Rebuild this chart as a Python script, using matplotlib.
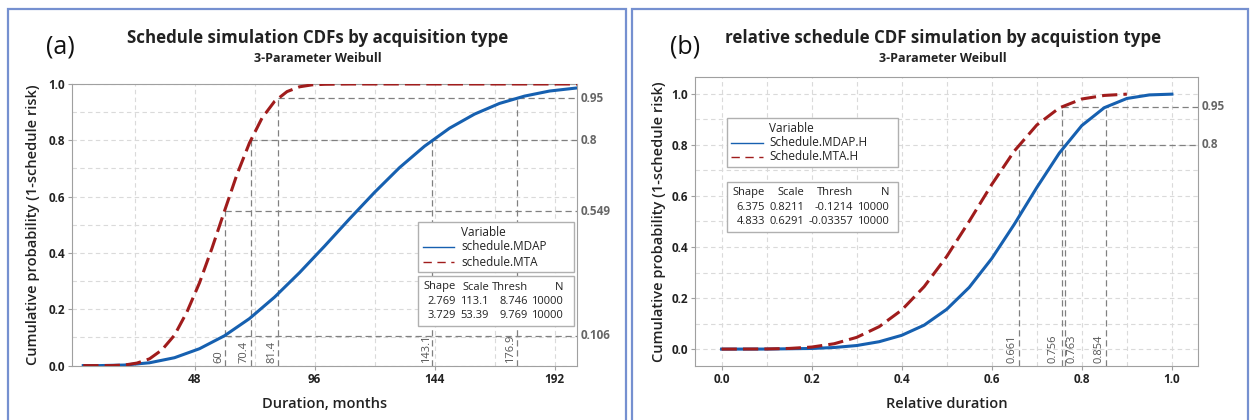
import numpy as np
import matplotlib
matplotlib.use("Agg")
import matplotlib.pyplot as plt
from matplotlib.patches import Rectangle
from matplotlib.lines import Line2D

plt.rcParams['font.family'] = ['Open Sans', 'DejaVu Sans']

W, H = 1250, 420

# ---- data ----
# (a) duration in months
a_mdap_x = [3.5, 10, 20, 30, 40, 50, 60, 70, 80, 90, 100, 110, 120, 130, 140, 150, 160, 170, 180, 190, 201]
a_mdap_y = [0.0, 0.0, 0.002, 0.010, 0.028, 0.060, 0.106, 0.167, 0.243, 0.330, 0.424, 0.521, 0.615, 0.703,
            0.779, 0.843, 0.893, 0.931, 0.957, 0.975, 0.986]
a_mta_x = [3.5, 15, 20, 25, 30, 35, 40, 45, 50, 55, 60, 65, 70, 75, 80, 85, 90, 95, 100, 110, 201]
a_mta_y = [0.0, 0.0, 0.002, 0.009, 0.024, 0.056, 0.108, 0.191, 0.294, 0.417, 0.549, 0.679, 0.791, 0.879,
           0.938, 0.973, 0.990, 0.997, 0.999, 1.0, 1.0]
a_ref = [(60, 0.549), (70.4, 0.8), (81.4, 0.95), (143.1, 0.8), (176.9, 0.95)]
a_href = [(60, 0.106), (60, 0.549), (70.4, 0.8), (81.4, 0.95)]
a_xlabels = ["60", "70.4", "81.4", "143.1", "176.9"]
a_ylabels = ["0.95", "0.8", "0.549", "0.106"]
a_names = ["schedule.MDAP", "schedule.MTA"]
a_table = [["2.769", "113.1", "8.746", "10000"], ["3.729", "53.39", "9.769", "10000"]]

# (b) relative duration
b_mdap_x = [0, 0.1, 0.2, 0.25, 0.3, 0.35, 0.4, 0.45, 0.5, 0.55, 0.6, 0.65, 0.7, 0.75, 0.8, 0.85, 0.9, 0.95, 1.0]
b_mdap_y = [0, 0.0002, 0.0025, 0.0063, 0.014, 0.029, 0.054, 0.094, 0.156, 0.242, 0.355, 0.489, 0.633,
            0.768, 0.876, 0.946, 0.982, 0.996, 0.999]
b_mta_x = [0, 0.1, 0.15, 0.2, 0.25, 0.3, 0.35, 0.4, 0.45, 0.5, 0.55, 0.6, 0.65, 0.7, 0.75, 0.8, 0.85, 0.9]
b_mta_y = [0, 0.0006, 0.0026, 0.008, 0.021, 0.046, 0.088, 0.153, 0.245, 0.363, 0.501, 0.645, 0.776,
           0.878, 0.945, 0.980, 0.994, 0.999]
b_ref = [(0.661, 0.8), (0.756, 0.95), (0.763, 0.8), (0.854, 0.95)]
b_href = [(0.661, 0.8), (0.756, 0.95)]
b_xlabels = ["0.661", "0.756", "0.763", "0.854"]
b_ylabels = ["0.95", "0.8"]
b_names = ["Schedule.MDAP.H", "Schedule.MTA.H"]
b_table = [["6.375", "0.8211", "-0.1214", "10000"], ["4.833", "0.6291", "-0.03357", "10000"]]

BLUE = "#1660b0"
RED = "#a01c1c"
REFC = "#808080"
TXT = "#222222"


def fx(x):
    return x / W


def fy(y):
    return 1 - y / H


fig = plt.figure(figsize=(12.5, 4.2), dpi=100)

# panel borders
for x0, x1 in [(8, 626), (632, 1248)]:
    fig.add_artist(Rectangle((fx(x0), fy(425)), fx(x1 - x0), 416 / H,
                             transform=fig.transFigure, fill=False, ec="#7590d0", lw=1.6))


def make_panel(rect, xlim, ylim, xticks, xgrid, yticks, ygrid):
    ax = fig.add_axes(rect)
    ax.set_xlim(*xlim)
    ax.set_ylim(*ylim)
    ax.set_xticks(xticks)
    ax.set_xticks(xgrid, minor=True)
    ax.set_yticks(yticks)
    ax.set_yticks(ygrid, minor=True)
    ax.grid(True, which="both", color="#dadada", ls=(0, (4, 3)), lw=0.8)
    ax.set_axisbelow(True)
    for s in ax.spines.values():
        s.set_color("#a0a0a0")
    ax.tick_params(which="major", length=3, color="#a0a0a0", labelsize=8.5, labelcolor=TXT, pad=2)
    ax.tick_params(which="minor", length=0)
    return ax


# ---------------- panel (a) ----------------
axa = make_panel([fx(72), fy(365.6), fx(505), 281.6 / H], (-1, 201), (0, 1),
                 [48, 96, 144, 192], np.arange(24, 200, 24), np.arange(0, 1.01, 0.2), np.arange(0, 1.01, 0.1))
axa.set_xticklabels(["48", "96", "144", "192"], fontweight="bold")
axa.set_yticklabels(["0.0", "0.2", "0.4", "0.6", "0.8", "1.0"], fontweight="bold")

for x, p in a_ref:
    axa.plot([x, x], [0, p], color=REFC, ls=(0, (5, 3)), lw=0.9, zorder=2)
for x, p in a_href:
    axa.plot([x, 201], [p, p], color=REFC, ls=(0, (5, 3)), lw=0.9, zorder=2)
for (x, p), lab in zip(a_ref, a_xlabels):
    axa.text(x - 2.4, 0.01, lab, rotation=90, ha="center", va="bottom", fontsize=8, color="#555555")
for lab in a_ylabels:
    axa.text(1.008, float(lab), lab, transform=axa.get_yaxis_transform(), ha="left", va="center",
             fontsize=8.5, color="#666666", fontweight="bold")

axa.plot(a_mdap_x, a_mdap_y, color=BLUE, lw=2.2, zorder=4)
axa.plot(a_mta_x, a_mta_y, color=RED, lw=2.2, ls=(0, (5, 2)), zorder=5)
axa.set_xlabel("Duration, months", fontsize=10.5, fontweight="semibold", color=TXT, labelpad=8)
axa.set_ylabel("Cumulative probability (1-schedule risk)", fontsize=10.5, fontweight="semibold",
               color=TXT, labelpad=6)

fig.text(fx(60), fy(47), "(a)", fontsize=18, ha="center", va="center", color="#111111")
fig.text(fx(318), fy(38), "Schedule simulation CDFs by acquisition type", fontsize=12.2,
         fontweight="bold", ha="center", va="center", color=TXT)
fig.text(fx(318), fy(58), "3-Parameter Weibull", fontsize=9, fontweight="bold", ha="center",
         va="center", color=TXT)

# ---------------- panel (b) ----------------
axb = make_panel([fx(695), fy(365.7), fx(503), 288.4 / H], (-0.059, 1.058), (-0.065, 1.065),
                 np.arange(0, 1.01, 0.2), np.arange(0, 1.01, 0.1), np.arange(0, 1.01, 0.2), np.arange(0, 1.01, 0.1))
axb.set_xticklabels(["0.0", "0.2", "0.4", "0.6", "0.8", "1.0"], fontweight="bold")
axb.set_yticklabels(["0.0", "0.2", "0.4", "0.6", "0.8", "1.0"], fontweight="bold")

for x, p in b_ref:
    axb.plot([x, x], [-0.065, p], color=REFC, ls=(0, (5, 3)), lw=0.9, zorder=2)
for x, p in b_href:
    axb.plot([x, 1.058], [p, p], color=REFC, ls=(0, (5, 3)), lw=0.9, zorder=2)
# the 0.763 label sits right of its line, the others left
b_label_dx = [-0.016, -0.019, 0.016, -0.016]
for (x, p), lab, dx in zip(b_ref, b_xlabels, b_label_dx):
    axb.text(x + dx, -0.055, lab, rotation=90, ha="center", va="bottom", fontsize=8, color="#555555")
for lab in b_ylabels:
    axb.text(1.008, float(lab), lab, transform=axb.get_yaxis_transform(), ha="left", va="center",
             fontsize=8.5, color="#666666", fontweight="bold")

axb.plot(b_mdap_x, b_mdap_y, color=BLUE, lw=2.2, zorder=4)
axb.plot(b_mta_x, b_mta_y, color=RED, lw=2.2, ls=(0, (5, 2)), zorder=5)
axb.set_xlabel("Relative duration", fontsize=10.5, fontweight="semibold", color=TXT, labelpad=8)
axb.set_ylabel("Cumulative probability (1-schedule risk)", fontsize=10.5, fontweight="semibold",
               color=TXT, labelpad=4)

fig.text(fx(685), fy(47), "(b)", fontsize=18, ha="center", va="center", color="#111111")
fig.text(fx(943), fy(38), "relative schedule CDF simulation by acquistion type", fontsize=12.2,
         fontweight="bold", ha="center", va="center", color=TXT)
fig.text(fx(943), fy(58), "3-Parameter Weibull", fontsize=9, fontweight="bold", ha="center",
         va="center", color=TXT)


# ---------------- legend + parameter boxes ----------------
def box(x0, y0, x1, y1):
    fig.add_artist(Rectangle((fx(x0), fy(y1)), fx(x1 - x0), (y1 - y0) / H, transform=fig.transFigure,
                             fc="white", ec="#b0b0b0", lw=1.0, zorder=10))


def legend_block(lx0, lx1, ly0, ly1, tx, line_x0, line_x1, rows_y, names):
    box(lx0, ly0, lx1, ly1)
    fig.text(fx(tx), fy(rows_y[0]), "Variable", fontsize=8.5, va="center", ha="left", color=TXT, zorder=11)
    styles = [dict(color=BLUE, lw=1.0), dict(color=RED, lw=1.0, ls=(0, (6, 4)))]
    for y, name, st in zip(rows_y[1:], names, styles):
        fig.add_artist(Line2D([fx(line_x0), fx(line_x1)], [fy(y), fy(y)], transform=fig.transFigure,
                              zorder=11, **st))
        fig.text(fx(tx), fy(y), name, fontsize=8.5, va="center", ha="left", color=TXT, zorder=11)


def table_block(bx0, bx1, by0, by1, col_right, rows_y, table):
    box(bx0, by0, bx1, by1)
    header = ["Shape", "Scale", "Thresh", "N"]
    for cx, h in zip(col_right, header):
        fig.text(fx(cx), fy(rows_y[0]), h, fontsize=8, va="center", ha="right", color=TXT, zorder=11)
    for y, row in zip(rows_y[1:], table):
        for cx, v in zip(col_right, row):
            fig.text(fx(cx), fy(y), v, fontsize=8, va="center", ha="right", color=TXT, zorder=11)


legend_block(418, 574, 222, 272, 461, 423, 454, [232, 247, 262], a_names)
table_block(418, 574, 276, 326, [456, 489, 528, 563], [287, 301, 316], a_table)

legend_block(727, 898, 118, 167, 769, 731, 763, [128, 143, 157], b_names)
table_block(727, 898, 182, 232, [765, 804, 853, 889], [193, 207, 222], b_table)

fig.savefig("out.png", dpi=100, facecolor="white")
